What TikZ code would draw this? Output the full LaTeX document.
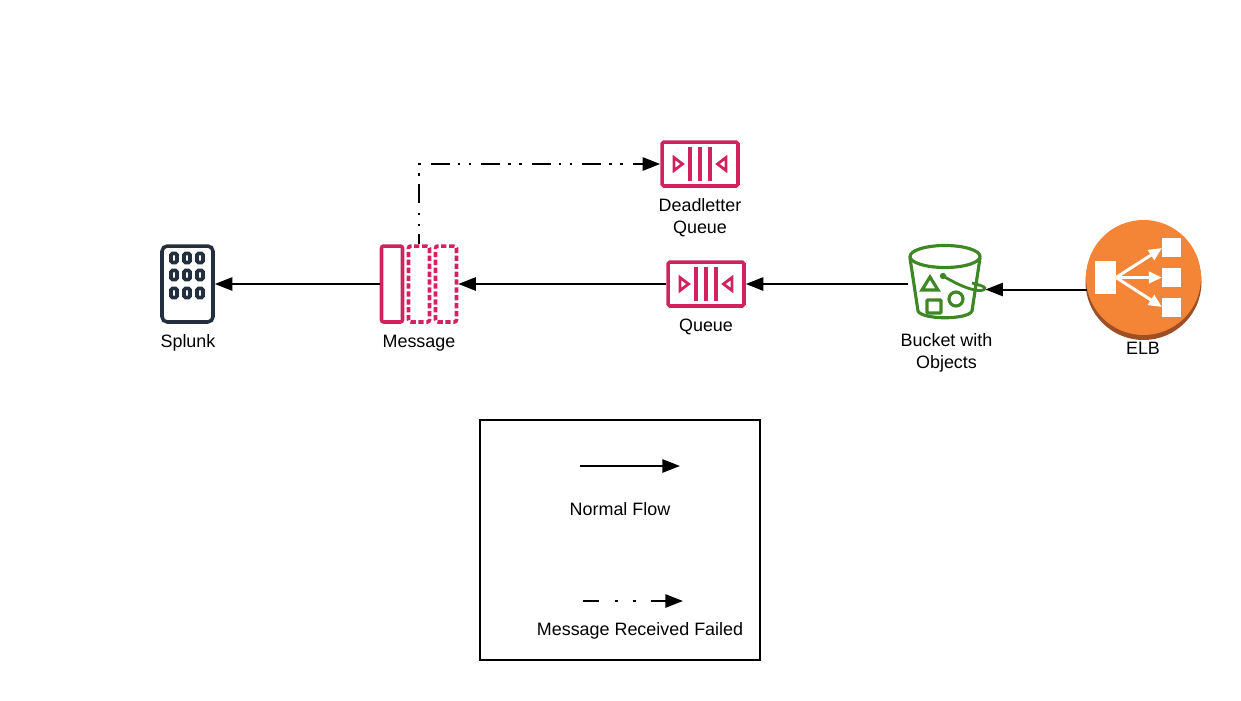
\documentclass[tikz,border=0pt]{standalone}
\usepackage{fontspec}
\setmainfont{Liberation Sans}
\usetikzlibrary{arrows.meta}
\definecolor{awspink}{HTML}{D1245F}
\definecolor{awsnavy}{HTML}{232F3E}
\definecolor{awsgreen}{HTML}{3F8624}
\definecolor{elborange}{HTML}{F58536}
\definecolor{elbbrown}{HTML}{9D5025}
\begin{document}
\begin{tikzpicture}[
    x=0.02cm, y=-0.02cm,
    every node/.style={font=\fontsize{10.2}{12.6}\selectfont, align=center},
    queuebox/.style={rectangle, draw=awspink, line width=2pt, rounded corners=1pt, minimum width=1.52cm, minimum height=0.88cm, inner sep=0pt},
    msgbox/.style={rectangle, draw=awspink, line width=2pt, rounded corners=1.2pt, minimum width=0.42cm, minimum height=1.52cm, inner sep=0pt},
    msgdash/.style={msgbox, dash pattern=on 3pt off 1.5pt},
    flow/.style={-{Triangle[length=10pt, width=7.5pt]}, line width=1.15pt},
    failflow/.style={flow, dash pattern=on 10.8pt off 4.6pt on 1.4pt off 4.8pt on 1.4pt off 5.7pt, dash phase=5pt},
    failkey/.style={flow, dash pattern=on 9pt off 9pt on 1.7pt off 8.5pt on 1.7pt off 9pt},
    elbarrow/.style={-{Triangle[length=7.5pt, width=6.5pt]}, line width=1.7pt},
    label/.style={inner sep=0pt}
]
    \useasboundingbox (0, 0) rectangle (1241, 700);

    % Splunk
    \node[rectangle, draw=awsnavy, line width=2pt, rounded corners=3pt, minimum width=1.02cm, minimum height=1.52cm, inner sep=0pt] (splunk) at (187.5, 284) {};
    \foreach \cx in {174, 187, 200}
        \foreach \cy in {258, 275, 293}
            \draw[awsnavy, line width=2pt, rounded corners=0.8pt] (\cx-3, \cy-4.5) rectangle (\cx+3, \cy+4.5);
    \node[label] (splunklabel) at (188, 343) {Splunk};

    % Message
    \node[msgbox] (msg1) at (392, 284) {};
    \node[msgdash] (msg2) at (419, 284) {};
    \node[msgdash] (msg3) at (446, 284) {};
    \node[label] (msglabel) at (419, 343) {Message};

    % Queues
    \node[queuebox] (queue) at (706, 284) {};
    \node[label] (queuelabel) at (706, 327) {Queue};
    \node[queuebox] (deadletter) at (700, 164) {};
    \node[label] (deadletterlabel) at (700, 217.5) {Deadletter\\Queue};
    \foreach \q in {queue, deadletter} {
        \begin{scope}[shift={(\q.center)}, awspink, line width=2pt]
            \foreach \bx in {-10, 0, 10}
                \draw (\bx, -17) -- (\bx, 17);
            \draw[line width=1.6pt] (-26, -6.5) -- (-26, 6.5) -- (-17.5, 0) -- cycle;
            \draw[line width=1.6pt] (26, -6.5) -- (26, 6.5) -- (17.5, 0) -- cycle;
        \end{scope}
    }

    % Bucket
    \node[rectangle, minimum width=1.54cm, minimum height=1.56cm, inner sep=0pt] (bucket) at (946.5, 284) {};
    \begin{scope}[awsgreen, line width=1.8pt]
        \draw (945, 256.5) ellipse (35 and 11);
        \draw (910, 258) -- (918, 311) .. controls (922, 320) and (968, 320) .. (972, 311) -- (980, 258);
        \draw (930, 277) -- (922, 290) -- (938, 290) -- cycle;
        \draw[rounded corners=0.5pt] (927, 300) rectangle (941, 313);
        \draw (956, 299) circle (7);
        \fill (943, 276) circle (3.2);
        \draw[line width=1.6pt] (943, 276) .. controls (955, 283) and (965, 288) .. (975, 290) .. controls (984, 292) and (988, 288) .. (982, 286) .. controls (979, 285) and (976, 284) .. (972, 283);
    \end{scope}
    \node[label] (bucketlabel) at (946.5, 353) {Bucket with\\Objects};

    % ELB
    \fill[elbbrown] (1143.5, 282) circle (58);
    \node[circle, fill=elborange, minimum size=2.3cm, inner sep=0pt] (elb) at (1143.5, 277.5) {};
    \begin{scope}[white]
        \fill (1095, 261) rectangle (1116, 294);
        \fill (1162, 238) rectangle (1181, 257);
        \fill (1162, 268) rectangle (1181, 287);
        \fill (1162, 298) rectangle (1181, 317);
        \draw[elbarrow] (1116, 277.5) -- (1162, 248);
        \draw[elbarrow] (1116, 277.5) -- (1162, 277.5);
        \draw[elbarrow] (1116, 277.5) -- (1162, 307);
    \end{scope}
    \node[label] (elblabel) at (1143, 348.5) {ELB};

    % Arrows
    \draw[flow] (elb.192) -- (elb.192 -| bucket.east);
    \draw[flow] (bucket.west) -- (queue.east);
    \draw[flow] (queue.west) -- (msg3.east);
    \draw[flow] (msg1.west) -- (splunk.east);
    \draw[failflow] (msg2.north) |- (deadletter.west);

    % Legend
    \node[rectangle, draw, line width=1.15pt, minimum width=5.6cm, minimum height=4.8cm, inner sep=0pt] (legend) at (620, 540) {};
    \coordinate (normalstart) at (580, 466);
    \coordinate (normalend) at (680, 466);
    \coordinate (failstart) at (583, 601);
    \coordinate (failend) at (683, 601);
    \draw[flow] (normalstart) -- (normalend);
    \draw[failkey] (failstart) -- (failend);
    \node[label] (normallabel) at (620, 509) {Normal Flow};
    \node[label] (faillabel) at (640, 631) {Message Received Failed};
\end{tikzpicture}
\end{document}
